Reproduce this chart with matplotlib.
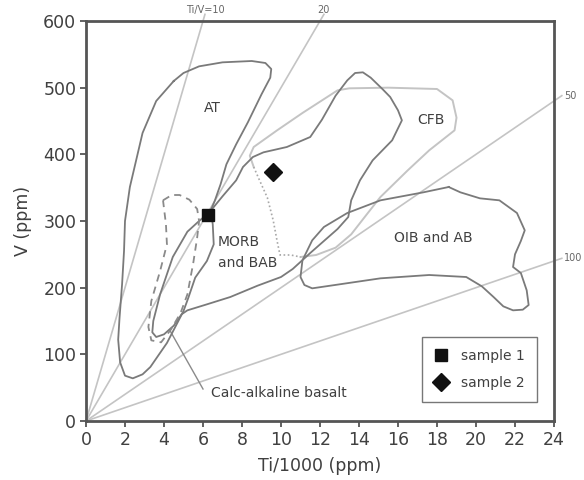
"""
Ti-V discrimination diagram (Shervais 1982 style) with two samples.
"""

import matplotlib.pyplot as plt

# sample points
sample_names = ["sample 1", "sample 2"]
sample_ti = [6.25, 9.6]
sample_v = [309, 373]

# Ti/V reference lines and where the labels sit
ratios = [10, 20, 50, 100]
ratio_labels = ["Ti/V=10", "20", "50", "100"]
ratio_ends = [6.1, 12.2, 24.4, 24.4]

# field outlines (Ti/1000, V)
at_ti = [4.5, 5.0, 5.8, 7.0, 8.5, 9.2, 9.5, 9.45, 9.0, 8.3, 7.7, 7.2, 6.9, 6.6,
         6.4, 6.5, 6.55, 6.2, 5.6, 5.25, 5.0, 4.7, 4.15, 3.3, 2.9, 2.4, 2.0,
         1.75, 1.65, 1.72, 1.85, 1.95, 2.0, 2.25, 2.9, 3.6, 4.5]
at_v = [510, 522, 532, 538, 540, 537, 528, 515, 490, 448, 415, 385, 355, 330,
        316, 295, 265, 240, 215, 185, 165, 148, 117, 81, 70, 64, 68,
        88, 122, 155, 205, 255, 300, 351, 432, 480, 510]

morb_ti = [6.3, 7.0, 7.7, 8.05, 8.56, 9.1, 10.3, 11.5, 12.1, 12.8, 13.4, 13.8,
           14.2, 14.6, 15.2, 15.6, 16.0, 16.2, 15.7, 14.7, 14.05, 13.6, 13.45,
           12.9, 11.5, 10.6, 10.0, 8.8, 7.4, 6.2, 5.2, 4.9, 4.5, 4.0, 3.6, 3.4,
           3.45, 3.8, 4.45, 5.2, 5.8, 6.3]
morb_v = [312, 337, 361, 381, 396, 403, 411, 426, 452, 488, 511, 522,
          523, 515, 498, 486, 466, 451, 421, 391, 361, 331, 306,
          288, 252, 228, 216, 203, 186, 175, 166, 160, 143, 130, 126, 133,
          150, 190, 246, 284, 300, 312]

calc_ti = [3.95, 4.4, 4.8, 5.3, 5.7, 5.8, 5.7, 5.5, 5.2, 4.85, 4.35, 3.85,
           3.35, 3.2, 3.35, 3.8, 4.15, 4.1, 3.95]
calc_v = [331, 339, 339, 332, 318, 300, 275, 237, 190, 162, 137, 118,
          121, 141, 180, 225, 265, 295, 331]

cfb_ti = [11.0, 11.8, 12.8, 13.6, 14.4, 15.1, 16.5, 17.6, 18.9, 19.0, 18.8,
          18.0, 15.5, 13.5, 12.9, 11.1, 9.8, 8.6, 8.4, 8.6]
cfb_v = [246, 249, 260, 280, 310, 336, 376, 406, 436, 455, 481,
         498, 500, 499, 496, 462, 436, 411, 398, 381]
cfb_dot_ti = [8.6, 8.9, 9.3, 9.6, 9.8, 9.95, 10.5, 11.0]
cfb_dot_v = [381, 361, 335, 301, 270, 249, 249, 246]

oib_ti = [18.6, 17.3, 15.1, 13.4, 12.2, 11.6, 11.1, 11.0, 11.2, 11.6, 13.0,
          15.1, 17.6, 19.5, 20.3, 20.9, 21.4, 21.9, 22.4, 22.7, 22.6, 22.3,
          21.9, 22.0, 22.3, 22.5, 22.1, 21.2, 20.2, 19.2, 18.6]
oib_v = [351, 343, 331, 312, 291, 271, 241, 216, 204, 199, 205,
         214, 219, 216, 202, 186, 172, 166, 167, 174, 196, 222,
         231, 250, 270, 286, 312, 331, 334, 343, 351]

# field names
field_names = ["AT", "CFB", "MORB\nand BAB", "OIB and AB"]
field_x = [6.5, 17.7, 6.75, 17.8]
field_y = [470, 451, 253, 274]

TEXT = "#404040"
FIELD = "#7a7a7a"
LIGHT = "#c4c4c4"

plt.rcParams["font.family"] = "DejaVu Sans"

fig = plt.figure(figsize=(5.84, 4.8), dpi=100)
ax = fig.add_axes([86 / 584, 59 / 480, 468 / 584, 400 / 480])

# ratio lines from the origin
for r, lab, xe in zip(ratios, ratio_labels, ratio_ends):
    ax.plot([0, xe], [0, xe * 1000 / r], color=LIGHT, lw=1.2, clip_on=False, zorder=1)
    if r <= 20:
        ax.text(xe, 616, lab, fontsize=7, color="#666666",
                ha="center", va="center")
    else:
        ax.text(xe + 0.1, xe * 1000 / r, lab, fontsize=7, color="#666666",
                ha="left", va="center")

# fields
ax.plot(cfb_ti, cfb_v, color=LIGHT, lw=1.4, zorder=2)
ax.plot(cfb_dot_ti, cfb_dot_v, color="#a8a8a8", lw=1.2, ls=(0, (1, 1.5)), zorder=2)
ax.plot(at_ti, at_v, color=FIELD, lw=1.3, zorder=3)
ax.plot(morb_ti, morb_v, color=FIELD, lw=1.3, zorder=3)
ax.plot(oib_ti, oib_v, color=FIELD, lw=1.3, zorder=3)
ax.plot(calc_ti, calc_v, color="#8a8a8a", lw=1.3, ls=(0, (4, 3)), zorder=3)

for name, x, y in zip(field_names, field_x, field_y):
    ha = "left" if name.startswith("MORB") else "center"
    ax.text(x, y, name, fontsize=10, color=TEXT, ha=ha, va="center",
            linespacing=1.6)

# calc-alkaline pointer
ax.plot([4.3, 6.0], [136, 48], color="#8a8a8a", lw=1.0, zorder=2)
ax.text(6.4, 42, "Calc-alkaline basalt", fontsize=10, color=TEXT,
        ha="left", va="center")

# samples
ax.plot(sample_ti[0], sample_v[0], ls="none", marker="s", ms=9,
        color="#111111", label=sample_names[0], zorder=5)
ax.plot(sample_ti[1], sample_v[1], ls="none", marker="D", ms=9,
        color="#111111", label=sample_names[1], zorder=5)

leg = ax.legend(loc="lower right", bbox_to_anchor=(0.964, 0.0475),
                fontsize=10, frameon=True, fancybox=False, handlelength=1.0,
                handletextpad=0.9, borderpad=0.9, labelspacing=0.9,
                borderaxespad=0)
leg.get_frame().set_edgecolor("#555555")
leg.get_frame().set_linewidth(1.0)
for t in leg.get_texts():
    t.set_color(TEXT)

ax.set_xlim(0, 24)
ax.set_ylim(0, 600)
ax.set_xticks(range(0, 25, 2))
ax.set_yticks(range(0, 601, 100))

for s in ax.spines.values():
    s.set_color("#555555")
    s.set_linewidth(2)
ax.tick_params(direction="out", length=4, width=1.3, color="#555555",
               labelsize=12.5, labelcolor=TEXT, pad=3)

ax.set_xlabel("Ti/1000 (ppm)", fontsize=12.5, color=TEXT, labelpad=6)
ax.set_ylabel("V (ppm)", fontsize=12.5, color=TEXT, labelpad=8)

plt.savefig("out.png", dpi=100)
